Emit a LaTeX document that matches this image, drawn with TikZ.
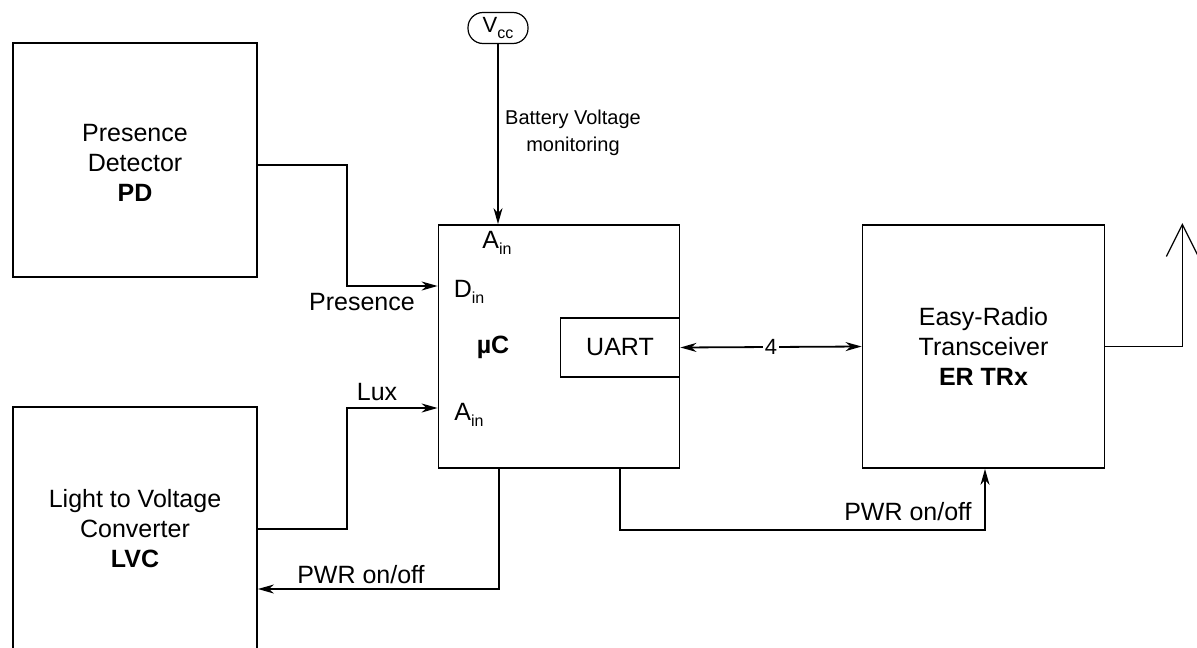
\documentclass[tikz,border=0pt]{standalone}
\usepackage{fontspec}
\setmainfont{Liberation Sans}
\usetikzlibrary{arrows.meta}
\newcommand{\mysub}[1]{\raisebox{-0.45ex}{\fontsize{16}{16}\selectfont #1}}
\tikzset{
  blk/.style={draw, line width=1.8pt, rectangle, inner sep=0pt, align=center,
    font=\fontsize{25}{30}\selectfont},
  lbl/.style={inner sep=0pt, align=center, font=\fontsize{25}{30}\selectfont},
  wire/.style={line width=1.8pt},
  arr/.style={wire, -{Stealth[length=16pt,width=9pt,inset=5pt]}},
  darr/.style={wire, {Stealth[length=16pt,width=9pt,inset=5pt]}-{Stealth[length=16pt,width=9pt,inset=5pt]}}
}
\begin{document}
\begin{tikzpicture}[x=1pt,y=-1pt]
\useasboundingbox (0,0) rectangle (1197,648);
\clip (0,0) rectangle (1197,648);

% blocks
\node[blk, minimum width=244pt, minimum height=234pt] (pd) at (135,160)
  {\\[-8pt]Presence\\Detector\\\textbf{PD}};
\node[blk, minimum width=244pt, minimum height=244pt] (lvc) at (135,529)
  {Light to Voltage\\Converter\\\textbf{LVC}};
\node[blk, minimum width=241pt, minimum height=243pt] (mcu) at (559,346.5) {};
\node[blk, minimum width=119pt, minimum height=59pt] (uart) at (620,347.5) {UART};
\node[blk, minimum width=242pt, minimum height=243pt] (er) at (983.5,346.5)
  {Easy-Radio\\Transceiver\\\textbf{ER TRx}};

% Vcc
\node[draw, line width=1.2pt, rounded corners=15pt, minimum width=60pt, minimum height=31pt,
  inner sep=0pt, font=\fontsize{22}{22}\selectfont] (vcc) at (498,28) {V\mysub{cc}};

% labels inside muC
\node[lbl] (ain1) at (497,243) {A\mysub{in}};
\node[lbl] (din) at (469,292) {D\mysub{in}};
\node[lbl] (uc) at (493,347) {\textbf{µC}};
\node[lbl] (ain2) at (469,415) {A\mysub{in}};

% wire labels
\node[lbl] (presl) at (362,302) {Presence};
\node[lbl] (luxl) at (377,392) {Lux};
\node[lbl] (pwr1) at (361,575) {PWR on/off};
\node[lbl] (pwr2) at (908,512) {PWR on/off};
\node[inner sep=0pt, align=center, font=\fontsize{20}{27}\selectfont] (batt) at (573,133)
  {Battery Voltage\\monitoring};

% connectors
\draw[arr] (vcc.south) -- (vcc.south |- mcu.north);
\draw[arr] ([yshift=-5pt]pd.east) -- ++(89,0) |- ([yshift=60.5pt]mcu.west);
\draw[arr] (lvc.east) -- ++(89,0) |- ([yshift=-61.5pt]mcu.west);
\draw[arr] ([xshift=-60pt]mcu.south) |- ([yshift=-60pt]lvc.east);
\draw[arr] ([xshift=61pt]mcu.south) -- ++(0,61) -| ([xshift=1.5pt]er.south);
\draw[darr] (uart.east) -- (er.west)
  node[midway, fill=white, inner sep=2pt, font=\fontsize{22}{22}\selectfont] (four) {4};

% antenna
\draw[wire] (er.east) -- ++(77,0) -- ++(0,-122) coordinate (ant);
\draw[line width=1.2pt] (ant) ++(-16,32) -- (ant) -- ++(16,32);
\end{tikzpicture}
\end{document}
